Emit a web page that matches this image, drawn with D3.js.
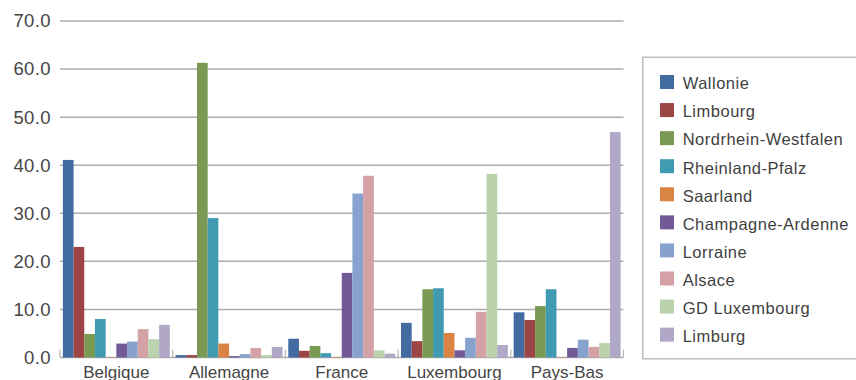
<!DOCTYPE html>
<html>
<head>
<meta charset="utf-8">
<script src="https://cdn.jsdelivr.net/npm/d3@7"></script>
<style>
  html, body { margin: 0; padding: 0; background: #fff; }
  svg { display: block; font-family: "Liberation Sans", Arial, sans-serif; }
</style>
</head>
<body>
<svg id="chart" width="856" height="380"></svg>
<script>
// Country groups along the x axis
const countries = ["Belgique", "Allemagne", "France", "Luxembourg", "Pays-Bas"];

// Regions (one bar per region in each country group)
const regions = [
  "Wallonie", "Limbourg", "Nordrhein-Westfalen", "Rheinland-Pfalz", "Saarland",
  "Champagne-Ardenne", "Lorraine", "Alsace", "GD Luxembourg", "Limburg"
];

// Values per region, in country order
const wallonie      = [41.1,  0.5,  3.9,  7.2,  9.4];
const limbourg      = [23.0,  0.5,  1.4,  3.4,  7.8];
const nrw           = [ 4.9, 61.3,  2.4, 14.2, 10.7];
const rheinlandPfalz= [ 8.0, 29.0,  0.9, 14.4, 14.2];
const saarland      = [ 0.1,  2.9,  0.1,  5.1,  0.1];
const champagne     = [ 2.9,  0.3, 17.6,  1.5,  2.0];
const lorraine      = [ 3.3,  0.7, 34.1,  4.1,  3.7];
const alsace        = [ 5.9,  2.0, 37.8,  9.5,  2.2];
const gdLuxembourg  = [ 3.8,  0.5,  1.5, 38.2,  3.0];
const limburg       = [ 6.8,  2.2,  0.8,  2.6, 46.9];

const seriesValues = [wallonie, limbourg, nrw, rheinlandPfalz, saarland,
                      champagne, lorraine, alsace, gdLuxembourg, limburg];

const colors = ["#416ba1", "#9b4544", "#7a9a54", "#3f9ab2", "#da8444",
                "#715a97", "#87a2cf", "#d4a2a6", "#bad3ac", "#b1a8c8"];

const yTicks = [0, 10, 20, 30, 40, 50, 60, 70];

const svg = d3.select("#chart");
const plot = { left: 60, right: 623.5, top: 21, bottom: 357.5 };

const x0 = d3.scaleBand().domain(countries).range([plot.left, plot.right]).padding(0);
const x1 = d3.scaleBand().domain(regions).range([0, x0.bandwidth()])
  .paddingInner(0).paddingOuter(0.27);
const y = d3.scaleLinear().domain([0, 70]).range([plot.bottom, plot.top]);
const color = d3.scaleOrdinal().domain(regions).range(colors);

// Horizontal gridlines
svg.append("g")
  .selectAll("line")
  .data(yTicks)
  .join("line")
  .attr("x1", plot.left)
  .attr("x2", plot.right)
  .attr("y1", d => y(d))
  .attr("y2", d => y(d))
  .attr("stroke", "#ababab")
  .attr("stroke-width", 1.5);

// Y axis labels
const yAxis = d3.axisLeft(y).tickValues(yTicks).tickFormat(d3.format(".1f")).tickSize(0).tickPadding(9);
const yg = svg.append("g").attr("transform", `translate(${plot.left},0)`).call(yAxis);
yg.select(".domain").remove();
yg.selectAll("text")
  .attr("font-size", 18.5)
  .attr("letter-spacing", 0.4)
  .attr("font-family", "Liberation Sans, Arial, sans-serif")
  .attr("fill", "#454545");

// Group boundary tick marks rising from the baseline
const bounds = countries.map(c => x0(c)).concat([plot.right]);
svg.append("g")
  .selectAll("line")
  .data(bounds)
  .join("line")
  .attr("x1", d => d)
  .attr("x2", d => d)
  .attr("y1", plot.bottom)
  .attr("y2", plot.bottom - 8)
  .attr("stroke", "#b5b5b5")
  .attr("stroke-width", 1.2);

// Bars
const groups = svg.append("g")
  .selectAll("g")
  .data(countries)
  .join("g")
  .attr("transform", d => `translate(${x0(d)},0)`);

groups.selectAll("rect")
  .data((c, ci) => regions.map((r, ri) => ({ region: r, value: seriesValues[ri][ci] })))
  .join("rect")
  .attr("x", d => x1(d.region))
  .attr("width", x1.bandwidth())
  .attr("y", d => y(d.value))
  .attr("height", d => y(0) - y(d.value))
  .attr("fill", d => color(d.region));

// Category labels
const xAxis = d3.axisBottom(x0).tickSize(0).tickPadding(8);
const xg = svg.append("g").attr("transform", `translate(0,${plot.bottom})`).call(xAxis);
xg.select(".domain").remove();
xg.selectAll("text")
  .attr("font-size", 17)
  .attr("font-family", "Liberation Sans, Arial, sans-serif")
  .attr("fill", "#454545");

// Legend
const legend = svg.append("g");
legend.append("rect")
  .attr("x", 642.7)
  .attr("y", 57.3)
  .attr("width", 220)
  .attr("height", 301.5)
  .attr("fill", "#fff")
  .attr("stroke", "#bdbdbd")
  .attr("stroke-width", 1.5);

const items = legend.selectAll("g.item")
  .data(regions)
  .join("g")
  .attr("class", "item")
  .attr("transform", (d, i) => `translate(660,${75 + i * 28.07})`);

items.append("rect")
  .attr("width", 14)
  .attr("height", 14)
  .attr("fill", d => color(d));

items.append("text")
  .attr("x", 22.7)
  .attr("y", 14.3)
  .attr("font-size", 16.5)
  .attr("letter-spacing", 0.5)
  .attr("fill", "#3f3f3f")
  .text(d => d);
</script>
</body>
</html>
